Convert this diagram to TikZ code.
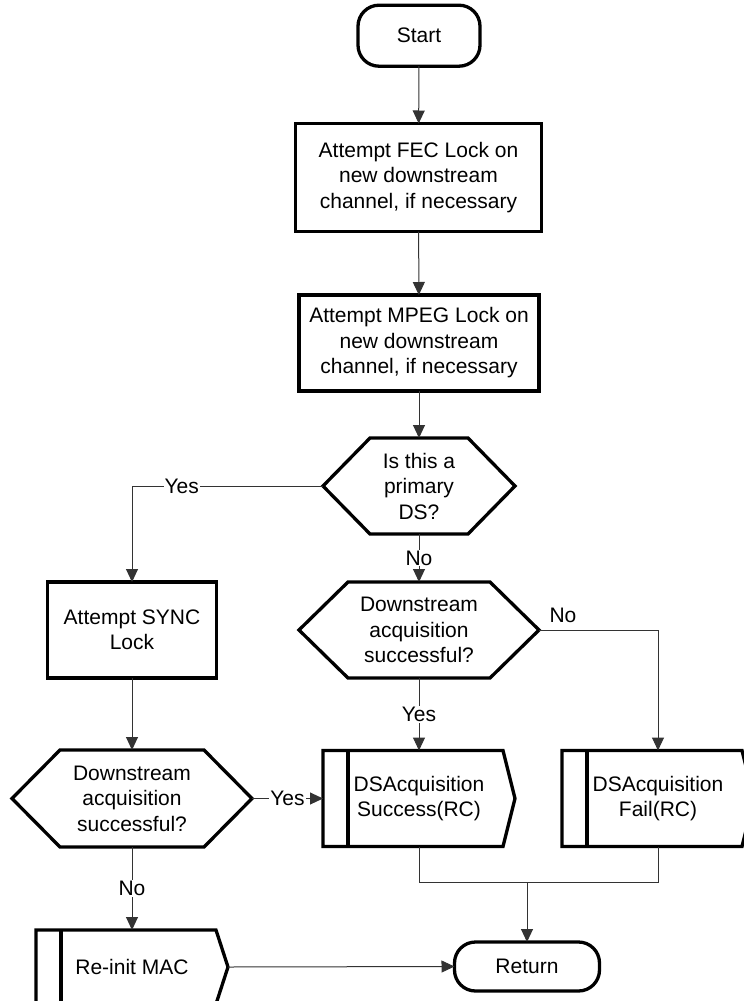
\documentclass[tikz,border=0pt]{standalone}
\usepackage{fontspec}
\setmainfont{Liberation Sans}
\usetikzlibrary{arrows.meta,calc}
\newcommand\fsz{\fontsize{21}{25.5}\selectfont}
\newcommand\hexline[2]{\draw[shapeline] ([xshift=#2]#1.north west) -- ([xshift=-#2]#1.north east) -- (#1.east) -- ([xshift=-#2]#1.south east) -- ([xshift=#2]#1.south west) -- (#1.west) -- cycle;}
\newcommand\procline[1]{\draw[shapeline] (#1.north west) -- ([xshift=-12pt]#1.north east) -- (#1.east) -- ([xshift=-12pt]#1.south east) -- (#1.south west) -- cycle; \draw[shapeline] ([xshift=25pt]#1.north west) -- ([xshift=25pt]#1.south west);}
\tikzset{
  shapeline/.style={line width=3.3pt, line join=miter, black},
  base/.style={inner sep=0pt, outer sep=0pt, align=center, font=\fsz},
  term/.style={base, draw, line width=3.3pt, rounded corners=21pt},
  stepbox/.style={base, draw, line width=3.3pt},
  hexnode/.style={base},
  procnode/.style={base, minimum width=192pt, minimum height=96pt},
  conn/.style={line width=1pt, black!80, -{Triangle[width=12pt,length=13pt]}},
  plain/.style={line width=1pt, black!80},
  lbl/.style={font=\fsz, fill=white, inner sep=1pt, text=black},
  sidelbl/.style={font=\fsz, inner sep=1pt, text=black},
}
\begin{document}
\begin{tikzpicture}[x=1pt,y=-1pt]
\useasboundingbox (0,0) rectangle (744,1001);
\clip (0,0) rectangle (744,1001);
% nodes
\node[term, minimum width=122pt, minimum height=61pt] (start) at (419,35.7) {Start};
\node[stepbox, minimum width=246pt, minimum height=108pt] (fec) at (418.5,177.5) {Attempt FEC Lock on\\new downstream\\channel, if necessary};
\node[stepbox, minimum width=240pt, minimum height=96pt] (mpeg) at (419,343) {Attempt MPEG Lock on\\new downstream\\channel, if necessary};
\node[hexnode, minimum width=192pt, minimum height=96pt] (h1) at (419,486) {Is this a\\primary\\DS?};
\hexline{h1}{47pt}
\node[hexnode, minimum width=240pt, minimum height=96pt] (h2) at (419,630) {Downstream\\acquisition\\successful?};
\hexline{h2}{49pt}
\node[stepbox, minimum width=169pt, minimum height=96pt] (sync) at (132,630) {Attempt SYNC\\Lock};
\node[hexnode, minimum width=240pt, minimum height=97pt] (h3) at (132,798.5) {Downstream\\acquisition\\successful?};
\hexline{h3}{48pt}
\node[procnode] (succ) at (419,798.5) {DSAcquisition\\Success(RC)};
\procline{succ}
\node[procnode] (fail) at (658,798.5) {DSAcquisition\\Fail(RC)};
\procline{fail}
\node[procnode, minimum height=74pt] (reinit) at (132,967) {Re-init MAC};
\procline{reinit}
\node[term, minimum width=145pt, minimum height=49pt] (ret) at (527,966.5) {Return};
\coordinate (mj) at (527,882);
% connectors
\draw[conn] (start) -- (fec);
\draw[conn] (fec) -- (mpeg);
\draw[conn] (mpeg) -- (h1);
\draw[conn] (h1.west) -| node[lbl, pos=0.37] {Yes} (sync.north);
\draw[conn] (h1.south) -- node[lbl] {No} (h2.north);
\draw[conn] (h2.east) -| node[sidelbl, pos=0, anchor=south west, xshift=9pt, yshift=6pt] {No} (fail.north);
\draw[conn] (h2.south) -- node[lbl] {Yes} (succ.north);
\draw[conn] (sync) -- (h3);
\draw[conn] (h3.east) -- node[lbl] {Yes} (succ.west);
\draw[conn] (h3.south) -- node[lbl] {No} (reinit.north);
\draw[conn] (reinit.east) -- (ret.west);
\draw[plain] (succ.south) |- (mj);
\draw[plain] (fail.south) |- (mj);
\draw[conn] (mj) -- (ret.north);
\end{tikzpicture}
\end{document}
